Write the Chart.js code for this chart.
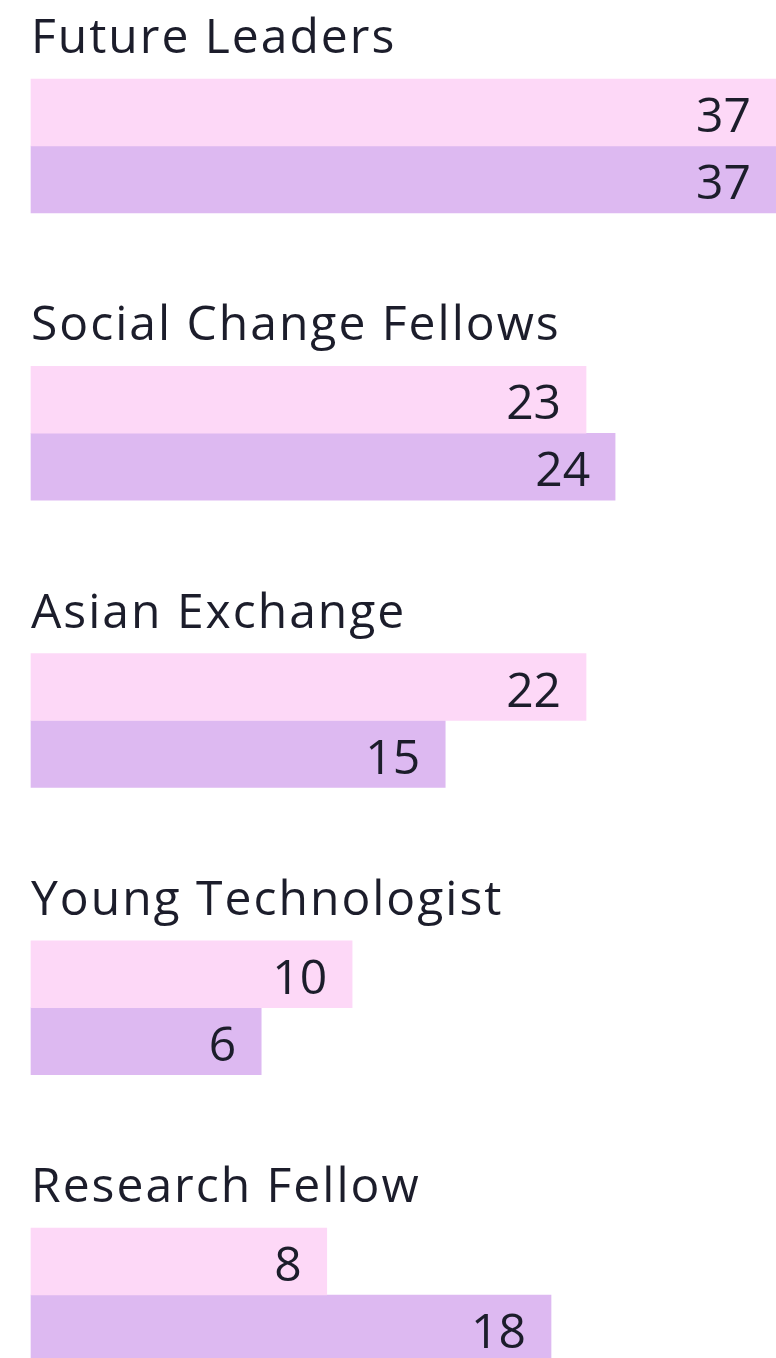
<!DOCTYPE html>
<html><head><meta charset="utf-8">
<script src="https://cdn.jsdelivr.net/npm/chart.js@4.4.1/dist/chart.umd.min.js"></script>
<style>html,body{margin:0;padding:0;background:#fff;overflow:hidden}#wrap{position:relative;width:776px;height:1358px}</style>
</head><body><div id="wrap"><canvas id="c" width="776" height="1358"></canvas></div>
<script>
// Categories and the numbers printed on the bars
const categories = ["Future Leaders", "Social Change Fellows", "Asian Exchange", "Young Technologist", "Research Fellow"];
const pinkValues = [37, 23, 22, 10, 8];
const purpleValues = [37, 24, 15, 6, 18];
// Bar extents (percent of the axis range)
const pinkBarLength = [100, 74.5, 74.5, 43.1, 39.7];
const purpleBarLength = [100, 78.4, 55.6, 30.9, 69.8];
const axisMin = 0, axisMax = 100;

const PINK = '#fdd8f7';
const PURPLE = '#ddb9f1';
const TEXT = '#1c1d2b';
const FONT = '48px "Open Sans"';

const labelPlugin = {
  id: 'labels',
  afterDatasetsDraw(chart) {
    const ctx = chart.ctx;
    const yScale = chart.scales.y;
    const area = chart.chartArea;
    const shown = [pinkValues, purpleValues];
    ctx.save();
    ctx.fillStyle = TEXT;
    ctx.font = FONT;
    ctx.textBaseline = 'alphabetic';
    // category titles above each group
    ctx.textAlign = 'left';
    if ('letterSpacing' in ctx) ctx.letterSpacing = '2px';
    categories.forEach((c, i) => {
      const y = yScale.getPixelForValue(i);
      ctx.fillText(c, area.left, y - 93);
    });
    if ('letterSpacing' in ctx) ctx.letterSpacing = '0px';
    // value labels inside bar ends
    ctx.textAlign = 'right';
    chart.data.datasets.forEach((ds, d) => {
      const meta = chart.getDatasetMeta(d);
      meta.data.forEach((bar, i) => {
        ctx.fillText(String(shown[d][i]), bar.x - 25, bar.y + 19.5);
      });
    });
    ctx.restore();
  }
};

new Chart(document.getElementById('c'), {
  type: 'bar',
  data: {
    labels: categories,
    datasets: [
      { label: 'Pink', data: pinkBarLength, backgroundColor: PINK, barThickness: 67, clip: false, borderWidth: 0 },
      { label: 'Purple', data: purpleBarLength, backgroundColor: PURPLE, barThickness: 67, clip: false, borderWidth: 0 }
    ]
  },
  options: {
    indexAxis: 'y',
    responsive: false,
    animation: false,
    devicePixelRatio: 1,
    layout: { padding: { top: 146, bottom: 63, left: 31, right: 0 } },
    scales: {
      x: { display: false, min: axisMin, max: axisMax },
      y: { display: false, offset: false }
    },
    plugins: { legend: { display: false }, tooltip: { enabled: false } }
  },
  plugins: [labelPlugin]
});
</script>
</body></html>
